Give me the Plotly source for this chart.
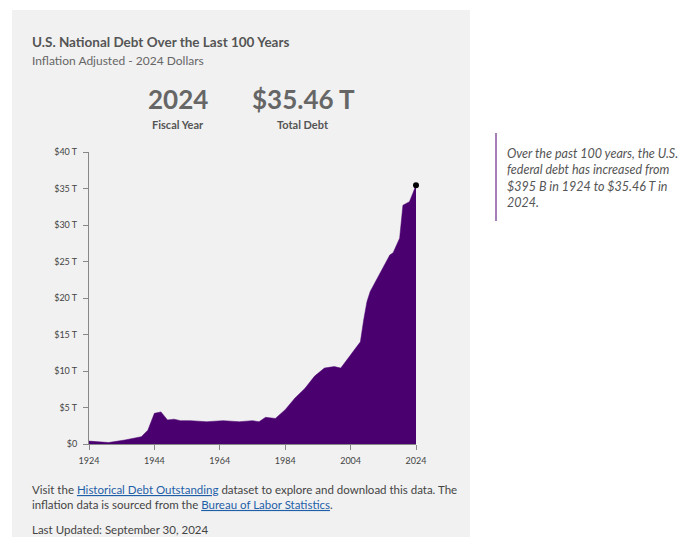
import plotly.graph_objects as go

years = [1924, 1930, 1935, 1940, 1942, 1944, 1946, 1948, 1950, 1952, 1955, 1960, 1965,
         1970, 1974, 1976, 1978, 1981, 1984, 1987, 1990, 1993, 1996, 1999, 2001, 2004,
         2007, 2008, 2009, 2010, 2012, 2014, 2015, 2016, 2017, 2018, 2019, 2020, 2021,
         2022, 2023, 2024]
debt_t = [0.395, 0.2, 0.55, 1.0, 1.9, 4.2, 4.4, 3.3, 3.4, 3.2, 3.2, 3.05, 3.2,
          3.05, 3.2, 3.05, 3.65, 3.5, 4.7, 6.3, 7.6, 9.3, 10.4, 10.6, 10.4, 12.2,
          14.0, 17.0, 19.5, 20.9, 22.5, 24.1, 25.0, 25.9, 26.2, 27.3, 28.2, 32.7, 33.0,
          33.2, 34.3, 35.46]
y_ticks = [0, 5, 10, 15, 20, 25, 30, 35, 40]
y_labels = ["$0"] + ["$%d T" % v for v in y_ticks[1:]]
x_ticks = [1924, 1944, 1964, 1984, 2004, 2024]

# page body has an 8px margin, so work in reference pixels and shift
OFF = 8
W, H = 690 - 2 * OFF, 545 - 2 * OFF
L, R, T, B = 89 - OFF, 416 - OFF, 152 - OFF, 444 - OFF

def px(x):
	return (x - OFF - L) / (R - L)

def py(y):
	return (B - (y - OFF)) / (B - T)

fig = go.Figure()

fig.add_trace(go.Scatter(
	x = years, y = debt_t, mode = "lines", fill = "tozeroy",
	line = dict(color = "#4b0070", width = 0.5), fillcolor = "#4b0070",
	hoverinfo = "skip", showlegend = False
))
fig.add_trace(go.Scatter(
	x = [years[-1]], y = [debt_t[-1]], mode = "markers", cliponaxis = False,
	marker = dict(color = "black", size = 6), showlegend = False
))

FONT = "Lato"
grey = "#555555"

def note(x, y, text, size, color = grey, bold = False, xanchor = "left"):
	if bold:
		text = "<b>" + text + "</b>"
	fig.add_annotation(x = px(x), y = py(y), xref = "paper", yref = "paper", text = text,
		showarrow = False, xanchor = xanchor, yanchor = "middle", align = "left",
		font = dict(family = FONT, size = size, color = color))

note(30, 42, "U.S. National Debt Over the Last 100 Years", 13.5, bold = True)
note(30, 60, "Inflation Adjusted - 2024 Dollars", 12, color = "#666666")
note(178, 99, "2024", 26, color = "#666666", bold = True, xanchor = "center")
note(178, 124, "Fiscal Year", 11, bold = True, xanchor = "center")
note(303, 99, "$35.46 T", 26, color = "#666666", bold = True, xanchor = "center")
note(303, 124, "Total Debt", 11, bold = True, xanchor = "center")

fig.add_annotation(x = px(505), y = py(178), xref = "paper", yref = "paper",
	text = "<i>Over the past 100 years, the U.S.<br>federal debt has increased from<br>$395 B in 1924 to $35.46 T in<br>2024.</i>",
	showarrow = False, xanchor = "left", yanchor = "middle", align = "left",
	font = dict(family = FONT, size = 12.5, color = grey))

link = "<span style='color:#1f5fa8'><u>%s</u></span>"
fig.add_annotation(x = px(30), y = py(497), xref = "paper", yref = "paper",
	text = "Visit the " + link % "Historical Debt Outstanding" + " dataset to explore and download this data. The<br>inflation data is sourced from the " + link % "Bureau of Labor Statistics" + ".",
	showarrow = False, xanchor = "left", yanchor = "middle", align = "left",
	font = dict(family = FONT, size = 11.5, color = "#444444"))
note(30, 529, "Last Updated: September 30, 2024", 11.5, color = "#444444")

fig.add_shape(type = "rect", xref = "paper", yref = "paper", layer = "below",
	x0 = px(12), x1 = px(470), y0 = py(553), y1 = py(10),
	fillcolor = "#f1f1f1", line = dict(width = 0))
fig.add_shape(type = "line", xref = "paper", yref = "paper",
	x0 = px(496), x1 = px(496), y0 = py(133), y1 = py(221),
	line = dict(color = "#4b0070", width = 1))

fig.update_layout(
	width = W, height = H,
	margin = dict(l = L, r = W - R, t = T, b = H - B),
	paper_bgcolor = "white", plot_bgcolor = "rgba(0,0,0,0)",
	font = dict(family = FONT, size = 9, color = "#444444"),
	xaxis = dict(range = [1924, 2024], tickvals = x_ticks, showgrid = False, zeroline = False,
		showline = True, linecolor = "#888888", ticks = "outside", ticklen = 5, tickcolor = "#888888",
		ticklabelstandoff = 3),
	yaxis = dict(range = [0, 40], tickvals = y_ticks, ticktext = y_labels, showgrid = False,
		zeroline = False, showline = True, linecolor = "#888888", ticks = "outside",
		ticklen = 5, tickcolor = "#888888", ticklabelstandoff = 4),
	showlegend = False
)

fig.write_html("out.html")
